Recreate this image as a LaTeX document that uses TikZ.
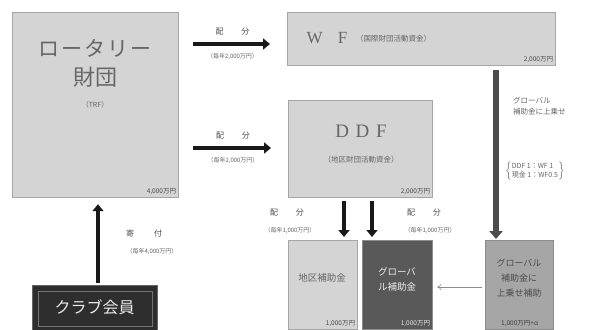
\documentclass[tikz,border=0pt]{standalone}
\usepackage{fontspec}
\setmainfont{Noto Sans CJK JP}
\newfontfamily\latinserif{Liberation Serif}
\usetikzlibrary{arrows.meta}
\begin{document}
\begin{tikzpicture}[x=1pt,y=-1pt,
  box/.style={draw=black!35, fill=black!17, line width=1.2pt, inner sep=0pt, anchor=north west},
  fatarrow/.style={-{Triangle[length=7pt,width=11pt]}, line width=4.2pt, black!90},
  lab/.style={font=\fontsize{8}{9}\selectfont, text=black!70, inner sep=1pt},
  sub/.style={font=\fontsize{6}{7}\selectfont, text=black!60, inner sep=1pt},
  amt/.style={font=\fontsize{6.5}{7}\selectfont, text=black!70, anchor=south east, inner sep=3pt},
  big/.style={text=black!60, inner sep=0pt}]
\useasboundingbox (0,0) rectangle (604,329);
\fill[white] (0,0) rectangle (604,329);

% boxes
\node[box, minimum width=166pt, minimum height=185pt] (trf) at (12,12) {};
\node[box, minimum width=268pt, minimum height=53pt] (wf) at (287,12) {};
\node[box, minimum width=144pt, minimum height=97pt] (ddf) at (288,100) {};
\node[box, minimum width=69pt, minimum height=89pt] (dist) at (288,240) {};
\node[box, minimum width=70pt, minimum height=89pt, fill=black!65, draw=black!45] (glob) at (362,240) {};
\node[box, minimum width=68pt, minimum height=89pt, fill=black!35, draw=black!45] (gsup) at (485,240) {};
\node[box, minimum width=125pt, minimum height=46pt, fill=black!82, draw=black!60] (club) at (32,285) {};
\draw[black!55, line width=0.8pt] ([shift={(6,6)}]club.north west) rectangle ([shift={(-6,-6)}]club.south east);

% texts in boxes
\node[big, font=\fontsize{21}{24}\selectfont] (t1) at (95,48) {ロ\kern2pt ー\kern2pt タ\kern2pt リ\kern2pt ー};
\node[big, font=\fontsize{22}{24}\selectfont] (t2) at (95,77) {財団};
\node[sub, font=\fontsize{7}{8}\selectfont] (t3) at (95,105) {（TRF）};
\node[amt] (t4) at (trf.south east) {4,000万円};

\node[big, font=\fontsize{17}{20}\latinserif\selectfont] (t5) at (327,38) {W\hspace{0.9em}F};
\node[sub, font=\fontsize{7.5}{8}\selectfont, anchor=west] (t6) at (355,39) {（国際財団活動資金）};
\node[amt] (t7) at (wf.south east) {2,000万円};

\node[big, font=\fontsize{19}{22}\latinserif\selectfont] (t8) at (361,131) {D\hspace{0.35em}D\hspace{0.35em}F};
\node[sub, font=\fontsize{7.5}{8}\selectfont] (t9) at (361,160) {（地区財団活動資金）};
\node[amt] (t10) at (ddf.south east) {2,000万円};

\node[big, font=\fontsize{9.5}{11}\selectfont] (t11) at (322,278) {地区補助金};
\node[amt] (t12) at (dist.south east) {1,000万円};

\node[big, text=white!92!black, align=center, font=\fontsize{9.5}{15}\selectfont] (t13) at (397,279) {グローバ\\ル補助金};
\node[amt, text=white!90!black] (t14) at (glob.south east) {1,000万円};

\node[big, text=black!70, align=center, font=\fontsize{9}{15}\selectfont] (t15) at (519,278) {グローバル\\補助金に\\上乗せ補助};
\node[amt, anchor=south, text=black!75] (t16) at (gsup.south) {1,000万円+α};

\node[big, text=white!92!black, font=\fontsize{16}{18}\selectfont] (t17) at (94.5,307) {クラブ会員};

% connectors
\coordinate (c1) at (178,44);
\draw[fatarrow, shorten <=15pt, shorten >=17pt] (c1) -- node[lab, above=6pt]{配\hspace{2.2em}分} node[sub, below=6pt]{（毎年2,000万円）} (c1 -| wf.west);
\coordinate (c2) at (178,148);
\draw[fatarrow, shorten <=15pt, shorten >=17pt] (c2) -- node[lab, above=6pt]{配\hspace{2.2em}分} node[sub, below=6pt]{（毎年2,000万円）} (c2 -| ddf.west);

\coordinate (c3) at (496,0);
\draw[-{Triangle[length=8pt,width=13pt]}, line width=6.5pt, black!70, shorten <=4pt, shorten >=1pt] (c3 |- wf.south) -- (c3 |- gsup.north);
\node[sub, font=\fontsize{7.5}{11}\selectfont, align=left, anchor=west] (t18) at (512,106) {グローバル\\補助金に上乗せ};
\node[sub, font=\fontsize{7}{9}\selectfont, anchor=west] (t19) at (504,171) {$\left\{\begin{tabular}{@{}l@{}}DDF 1：WF 1\\現金 1：WF0.5\end{tabular}\right\}$};

\coordinate (d1) at (344,0);
\coordinate (d2) at (372,0);
\draw[fatarrow, shorten <=3pt, shorten >=3pt] (d1 |- ddf.south) -- (d1 |- dist.north);
\draw[fatarrow, shorten <=3pt, shorten >=3pt] (d2 |- ddf.south) -- (d2 |- glob.north);
\node[lab] (l1) at (287,213) {配\hspace{2.2em}分};
\node[sub] (l2) at (290,230) {（毎年1,000万円）};
\node[lab] (l3) at (424,213) {配\hspace{2.2em}分};
\node[sub] (l4) at (430,230) {（毎年1,000万円）};

\coordinate (c4) at (0,287);
\draw[black!45, line width=0.6pt, -{To[length=4pt,width=6pt]}, shorten <=3pt, shorten >=4pt] (c4 -| gsup.west) -- (c4 -| glob.east);

\coordinate (c5) at (98,0);
\draw[fatarrow, line width=4.5pt, shorten <=2pt, shorten >=6pt] (c5 |- club.north) -- (c5 |- trf.south);
\node[lab] (l5) at (144,233) {寄\hspace{2.5em}付};
\node[sub] (l6) at (152,251) {（毎年4,000万円）};
\end{tikzpicture}
\end{document}
